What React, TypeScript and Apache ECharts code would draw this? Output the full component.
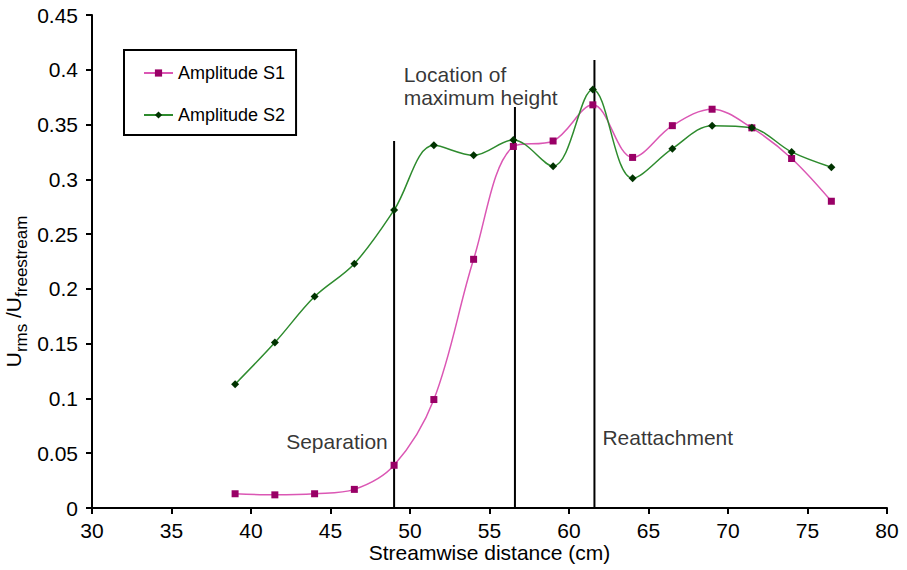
import React, { useEffect, useRef } from "react";
import * as echarts from "echarts";

const xPositions = [39, 41.5, 44, 46.5, 49, 51.5, 54, 56.5, 59, 61.5, 64, 66.5, 69, 71.5, 74, 76.5];
const s1Values = [0.013, 0.012, 0.013, 0.017, 0.039, 0.099, 0.227, 0.330, 0.335, 0.368, 0.320, 0.349, 0.364, 0.347, 0.319, 0.280];
const s2Values = [0.113, 0.151, 0.193, 0.223, 0.272, 0.331, 0.322, 0.336, 0.312, 0.382, 0.301, 0.328, 0.349, 0.347, 0.325, 0.311];

const markerX = [49.0, 56.6, 61.6];
const markerTop = [0.335, 0.366, 0.409];

const annotationText = ["Separation", "Location of\nmaximum height", "Reattachment"];
const annotationX = [48.6, 49.6, 62.1];
const annotationY = [0.061, 0.385, 0.064];
const annotationAlign = ["right", "left", "left"];

const FONT = "Liberation Sans, Arial, sans-serif";

export default function App() {
  const ref = useRef<HTMLDivElement>(null);
  useEffect(() => {
    document.body.style.margin = "0";
    const chart = echarts.init(ref.current!, undefined, { renderer: "svg" });
    const vLines = markerX.map((x, i) => ({
      type: "line",
      name: "v" + i,
      data: [[x, 0], [x, markerTop[i]]],
      symbol: "none",
      lineStyle: { color: "#000", width: 2 },
      silent: true,
      z: 1,
    }));
    const annotations = {
      type: "scatter",
      name: "ann",
      symbolSize: 0,
      silent: true,
      data: annotationText.map((t, i) => ({
        value: [annotationX[i], annotationY[i]],
        label: {
          show: true,
          formatter: t,
          position: [0, 0],
          align: annotationAlign[i],
          verticalAlign: "middle",
          fontSize: 21,
          lineHeight: 23,
          color: "#000",
          fontFamily: FONT,
        },
      })),
    };
    chart.setOption({
      animation: false,
      backgroundColor: "#fff",
      textStyle: { fontFamily: FONT },
      grid: { left: 92, right: 20, top: 15, bottom: 62, containLabel: false, outerBoundsMode: "none" },
      legend: {
        data: ["Amplitude S1", "Amplitude S2"],
        orient: "vertical",
        left: 124,
        top: 50,
        padding: [14, 11, 11, 19],
        itemGap: 24,
        itemWidth: 29,
        itemHeight: 9,
        borderColor: "#000",
        borderWidth: 2,
        textStyle: { fontSize: 18, color: "#000", fontFamily: FONT },
      },
      xAxis: {
        type: "value",
        min: 30,
        max: 80,
        interval: 5,
        name: "Streamwise distance (cm)",
        nameLocation: "middle",
        nameGap: 34,
        nameMoveOverlap: false,
        nameTextStyle: { fontSize: 21, color: "#000" },
        axisLine: { lineStyle: { color: "#000", width: 2 } },
        axisTick: { lineStyle: { color: "#000", width: 2 }, length: 6 },
        axisLabel: { fontSize: 21, color: "#000", margin: 12 },
        splitLine: { show: false },
      },
      yAxis: {
        type: "value",
        min: 0,
        max: 0.45,
        interval: 0.05,
        name: "{a|U}{b|rms}{a| /U}{b|freestream}",
        nameLocation: "middle",
        nameRotate: 90,
        nameGap: 62,
        nameMoveOverlap: false,
        nameTextStyle: {
          color: "#000",
          padding: [0, 60, 0, 0],
          rich: {
            a: { fontSize: 21, color: "#000", fontFamily: FONT, verticalAlign: "top", lineHeight: 20 },
            b: { fontSize: 17, color: "#000", fontFamily: FONT, verticalAlign: "bottom", lineHeight: 27 },
          },
        },
        axisLine: { show: true, lineStyle: { color: "#000", width: 2 } },
        axisTick: { show: true, lineStyle: { color: "#000", width: 2 }, length: 6 },
        axisLabel: {
          fontSize: 21,
          color: "#000",
          margin: 14,
          formatter: (v: number) => String(+v.toFixed(2)),
        },
        splitLine: { show: false },
      },
      series: [
        ...vLines,
        {
          type: "line",
          name: "Amplitude S1",
          data: xPositions.map((x, i) => [x, s1Values[i]]),
          smooth: 0.35,
          symbol: "rect",
          symbolSize: 7,
          lineStyle: { color: "#DB57B4", width: 1.5 },
          itemStyle: { color: "#990066" },
          z: 3,
        },
        {
          type: "line",
          name: "Amplitude S2",
          data: xPositions.map((x, i) => [x, s2Values[i]]),
          smooth: 0.35,
          symbol: "diamond",
          symbolSize: 8,
          lineStyle: { color: "#2E8B2E", width: 1.5 },
          itemStyle: { color: "#003300" },
          z: 3,
        },
        annotations,
      ],
    });
    return () => chart.dispose();
  }, []);
  return <div ref={ref} style={{ width: 907, height: 570 }} />;
}
